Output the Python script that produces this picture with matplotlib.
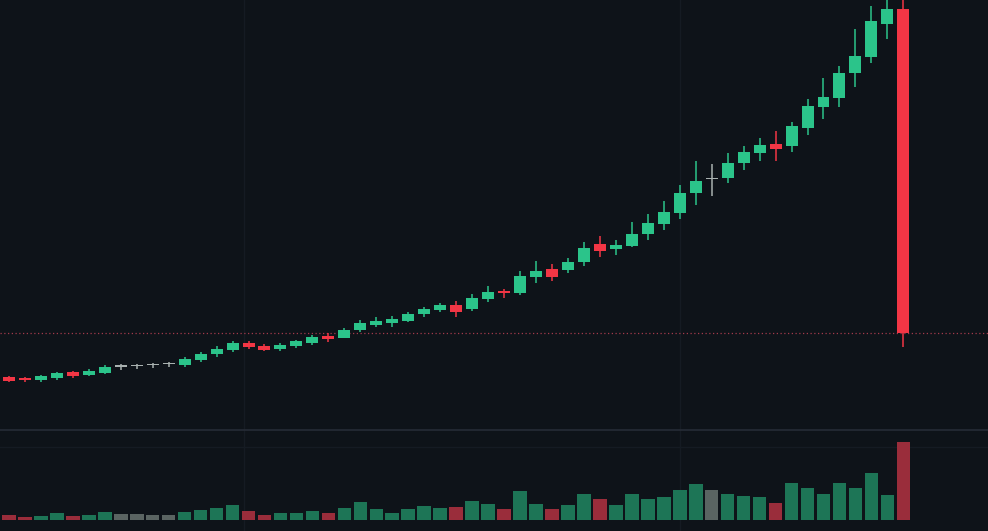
import matplotlib
matplotlib.use("Agg")
import matplotlib.pyplot as plt

# ------------------------------------------
# data
# ------------------------------------------
opens = [88.5, 88.2, 87.7, 88.2, 89.7, 89.1, 89.6, 91.1, 91.2, 91.5,
         91.75, 91.4, 92.75, 94.2, 95.25, 97.0, 96.2, 95.4, 96.25, 96.9,
         98.8, 98.3, 100.25, 101.5, 102.1, 102.6, 104.2, 105.25, 106.5, 105.5,
         108.1, 109.9, 109.4, 113.4, 115.4, 115.25, 117.2, 121.7, 120.5, 121.3,
         124.2, 126.75, 129.6, 134.4, 138.0, 138.2, 141.9, 144.6, 146.75, 146.3,
         150.8, 156.1, 158.2, 164.6, 168.6, 176.75, 180.5]
highs = [88.75, 88.6, 89.0, 89.8, 90.1, 90.4, 91.4, 91.7, 91.7, 92.1,
         92.25, 93.4, 94.7, 96.3, 97.4, 97.6, 96.7, 96.9, 97.75, 99.0,
         99.4, 100.7, 102.75, 103.4, 103.75, 104.7, 106.1, 107.1, 107.6, 109.2,
         111.3, 110.4, 115.1, 117.5, 116.7, 118.3, 122.3, 123.75, 122.75, 127.3,
         129.25, 132.6, 136.5, 142.6, 141.75, 144.4, 146.3, 148.2, 150.1, 152.3,
         158.0, 163.2, 166.25, 175.5, 181.25, 184.0, 185.0]
lows = [87.25, 87.2, 87.3, 87.8, 88.2, 88.8, 89.3, 90.25, 90.5, 90.7,
        91.1, 91.1, 92.3, 93.6, 94.8, 95.4, 95.0, 95.0, 95.7, 96.5,
        97.3, 98.2, 99.75, 100.9, 101.1, 102.2, 103.4, 104.7, 103.6, 105.1,
        107.25, 108.3, 109.0, 111.9, 112.5, 114.4, 116.25, 118.4, 119.0, 121.1,
        122.75, 125.25, 127.9, 131.5, 133.75, 136.9, 140.25, 142.5, 142.5, 144.8,
        149.0, 153.0, 156.1, 160.9, 167.1, 172.9, 96.0]
closes = [87.5, 87.7, 88.7, 89.4, 88.8, 90.0, 91.1, 91.1, 91.2, 91.5,
          91.75, 93.1, 94.25, 95.6, 96.9, 95.9, 95.25, 96.6, 97.4, 98.4,
          98.1, 100.25, 102.0, 102.5, 102.9, 104.25, 105.5, 106.5, 104.8, 108.3,
          109.75, 109.4, 113.75, 115.1, 113.6, 117.25, 120.7, 120.1, 121.5, 124.25,
          127.1, 129.8, 134.6, 137.6, 138.0, 142.1, 144.8, 146.5, 145.6, 151.25,
          156.3, 158.6, 164.4, 168.8, 177.5, 180.4, 99.6]
volumes = [50, 30, 40, 70, 40, 50, 80, 60, 60, 50,
           50, 80, 100, 120, 150, 90, 50, 70, 70, 90,
           70, 120, 180, 110, 70, 110, 140, 120, 130, 190,
           160, 110, 290, 160, 110, 150, 260, 210, 150, 260,
           210, 230, 300, 360, 300, 260, 240, 230, 170, 370,
           320, 260, 370, 320, 460, 250, 770]

# ------------------------------------------
# style
# ------------------------------------------
BG = '#0e1319'
UP = '#2bc48a'
DOWN = '#f23645'
FLAT = '#a9b1b0'
VOL_UP = '#1d7556'
VOL_DOWN = '#9a2d3b'
VOL_FLAT = '#5a6462'
GRID = '#151b23'

fig = plt.figure(figsize=(9.88, 5.31), dpi=100, facecolor=BG)
ax = fig.add_axes([0, 0.1902, 1, 0.8098], facecolor=BG)
ax_v = fig.add_axes([0, 0, 1, 0.1902], facecolor=BG, sharex=ax)

x = list(range(len(opens)))
colors, vcolors, bottoms, heights = [], [], [], []
for o, c in zip(opens, closes):
    if c > o:
        colors.append(UP); vcolors.append(VOL_UP)
    elif c < o:
        colors.append(DOWN); vcolors.append(VOL_DOWN)
    else:
        colors.append(FLAT); vcolors.append(VOL_FLAT)
    bottoms.append(min(o, c))
    heights.append(max(abs(c - o), 0.3))

# свечи: фитили + тела
ax.vlines(x, lows, highs, colors=colors, linewidth=1.1, zorder=2)
ax.bar(x, heights, bottom=bottoms, width=0.75, color=colors, linewidth=0, zorder=3)

# линия последней цены
ax.axhline(closes[-1], color='#a33a4b', linewidth=0.9,
           linestyle=(0, (1, 2)), zorder=1)

# объёмы
ax_v.bar(x, volumes, width=0.85, color=vcolors, linewidth=0, zorder=2)

# слабая сетка
for gx in [14.7, 42.0]:
    ax.axvline(gx, color=GRID, linewidth=1, zorder=0)
    ax_v.axvline(gx, color=GRID, linewidth=1, zorder=0)
ax_v.axhline(720, color=GRID, linewidth=1, zorder=0)

ax.set_xlim(-0.56, 61.3)
ax.set_ylim(75.25, 182.75)
ax_v.set_ylim(-110, 890)

for a in (ax, ax_v):
    a.set_xticks([])
    a.set_yticks([])
    for s in a.spines.values():
        s.set_visible(False)
ax_v.spines['top'].set_visible(True)
ax_v.spines['top'].set_color('#262c36')
ax_v.spines['top'].set_linewidth(1.2)

fig.savefig('out.png', dpi=100, facecolor=BG)
